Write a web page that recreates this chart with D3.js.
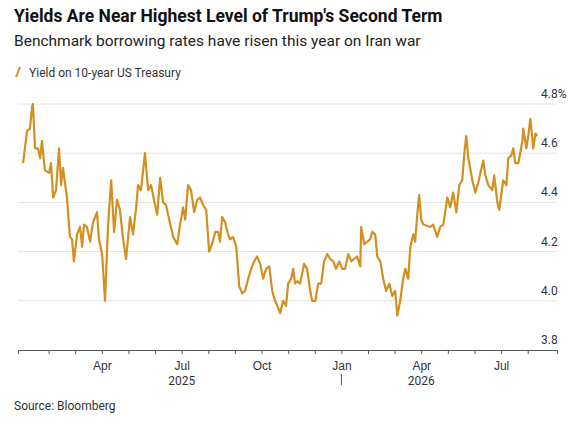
<!DOCTYPE html>
<html>
<head>
<script src="https://d3js.org/d3.v7.min.js"></script>
<style>
  body { margin: 0; background: #fff; font-family: Roboto, "Liberation Sans", sans-serif; }
  .title { font-weight: bold; font-size: 17.5px; fill: #111; }
  .sub { font-size: 15.5px; fill: #222; }
  .small { font-size: 12px; fill: #333; }
</style>
</head>
<body>
<svg id="chart" width="585" height="428"></svg>
<script>
// months since 1 Jan 2025 (fractional) and yield in %
const months = [0.04,0.19,0.30,0.38,0.41,0.49,0.60,0.68,0.75,0.86,1.02,1.09,1.17,1.28,1.39,1.47,1.54,1.69,1.80,1.88,1.95,2.07,2.18,2.26,2.33,2.44,2.56,2.67,2.82,2.89,3.01,3.12,3.23,3.35,3.46,3.57,3.68,3.80,3.91,4.06,4.17,4.29,4.36,4.47,4.55,4.62,4.74,4.85,4.96,5.08,5.19,5.30,5.41,5.53,5.68,5.83,5.94,6.05,6.13,6.24,6.35,6.47,6.58,6.69,6.80,6.92,7.03,7.14,7.26,7.37,7.44,7.52,7.63,7.74,7.82,7.93,8.05,8.16,8.27,8.38,8.50,8.61,8.72,8.83,8.95,9.06,9.17,9.29,9.40,9.51,9.59,9.70,9.81,9.92,10.00,10.11,10.19,10.26,
  10.34,10.45,10.60,10.71,10.83,10.90,11.02,11.13,11.24,11.35,11.47,11.58,11.69,11.80,11.92,12.03,12.14,12.26,12.37,12.48,12.59,12.71,12.74,12.86,12.97,13.08,13.16,13.27,13.35,13.46,13.57,13.68,13.80,13.91,14.02,14.10,14.21,14.32,14.40,14.51,14.59,14.70,14.77,14.85,14.92,15.00,15.08,15.34,15.45,15.60,15.71,15.83,15.98,16.09,16.20,16.32,16.43,16.54,16.62,16.69,16.77,16.92,17.03,17.14,17.33,17.41,17.52,17.67,17.74,17.86,17.93,18.08,18.20,18.27,18.38,18.46,18.53,18.65,18.80,18.83,18.95,19.02,19.10,19.21,19.29,19.36];
const yields = [4.56,4.69,4.70,4.79,4.80,4.62,4.62,4.58,4.65,4.53,4.52,4.56,4.42,4.45,4.62,4.47,4.54,4.42,4.26,4.25,4.16,4.27,4.30,4.22,4.31,4.30,4.24,4.32,4.36,4.25,4.19,4.00,4.30,4.49,4.28,4.41,4.37,4.25,4.17,4.34,4.27,4.38,4.47,4.45,4.53,4.60,4.45,4.47,4.41,4.35,4.50,4.40,4.39,4.33,4.26,4.23,4.31,4.38,4.33,4.47,4.45,4.36,4.41,4.42,4.39,4.37,4.20,4.23,4.28,4.28,4.24,4.34,4.32,4.27,4.25,4.26,4.22,4.06,4.03,4.04,4.09,4.13,4.16,4.18,4.15,4.09,4.13,4.14,4.04,4.00,3.98,3.95,4.00,3.98,4.07,4.09,4.13,4.07,
  4.08,4.07,4.15,4.13,4.04,4.00,4.00,4.07,4.07,4.16,4.19,4.17,4.16,4.13,4.16,4.13,4.13,4.19,4.16,4.17,4.18,4.14,4.30,4.23,4.24,4.25,4.28,4.27,4.18,4.16,4.09,4.04,4.07,4.02,4.04,3.94,4.00,4.09,4.13,4.09,4.22,4.27,4.24,4.35,4.43,4.33,4.31,4.30,4.31,4.26,4.30,4.31,4.42,4.38,4.44,4.36,4.47,4.49,4.60,4.67,4.58,4.49,4.44,4.48,4.57,4.51,4.47,4.45,4.51,4.40,4.37,4.49,4.47,4.58,4.59,4.62,4.56,4.56,4.65,4.70,4.62,4.67,4.74,4.62,4.68,4.67];
const monthTicks = d3.range(1, 20);
const monthNames = ['Jan','Feb','Mar','Apr','May','Jun','Jul','Aug','Sep','Oct','Nov','Dec'];
const labelMonths = ['Apr','Jul','Oct','Jan'];
const yTicks = [3.8, 4.0, 4.2, 4.4, 4.6, 4.8];

const svg = d3.select('#chart');
const color = '#d38f1f';

svg.append('text').attr('class','title').attr('x',14).attr('y',22)
  .text("Yields Are Near Highest Level of Trump's Second Term");
svg.append('text').attr('class','sub').attr('x',14).attr('y',46)
  .text('Benchmark borrowing rates have risen this year on Iran war');

// legend
svg.append('line').attr('x1',16).attr('y1',77).attr('x2',20).attr('y2',67)
  .attr('stroke',color).attr('stroke-width',2);
svg.append('text').attr('class','small').attr('x',29).attr('y',77)
  .text('Yield on 10-year US Treasury');

const x = d3.scaleLinear().domain([-0.15, 20.1]).range([18, 557]);
const y = d3.scaleLinear().domain([3.8, 4.8]).range([350, 104]);

// gridlines
svg.append('g').selectAll('line').data(yTicks.slice(1)).join('line')
  .attr('x1',18).attr('x2',557).attr('y1',d=>y(d)).attr('y2',d=>y(d))
  .attr('stroke','#e2e2e2').attr('stroke-width',1);

// y labels (above gridlines)
svg.append('g').selectAll('text').data(yTicks).join('text')
  .attr('class','small').attr('x',541).attr('y',d=>y(d)-6)
  .text(d => d3.format('.1f')(d) + (d === 4.8 ? '%' : ''));

// x axis
const xAxis = svg.append('g').attr('transform','translate(0,350)')
  .call(d3.axisBottom(x).tickValues(monthTicks).tickSize(4)
    .tickFormat(m => { const n = monthNames[m % 12]; return labelMonths.includes(n) ? n : ''; }));
xAxis.select('.domain').attr('stroke','#555');
xAxis.selectAll('.tick line').attr('stroke','#555');
xAxis.selectAll('.tick text').attr('class','small').attr('font-size',null).attr('font-family',null).attr('dy','1.05em');

svg.append('text').attr('class','small').attr('x',x(6)).attr('y',385).attr('text-anchor','middle').text('2025');
svg.append('text').attr('class','small').attr('x',x(15)).attr('y',385).attr('text-anchor','middle').text('2026');
svg.append('line').attr('x1',x(12)).attr('x2',x(12)).attr('y1',374).attr('y2',385).attr('stroke','#555');

// line
const pts = months.map((m, i) => [m, yields[i]]);
svg.append('path').datum(pts)
  .attr('fill','none').attr('stroke',color).attr('stroke-width',2.2).attr('stroke-linejoin','round')
  .attr('d', d3.line().x(d=>x(d[0])).y(d=>y(d[1])));

svg.append('text').attr('class','small').attr('x',14).attr('y',410).text('Source: Bloomberg');
</script>
</body>
</html>
